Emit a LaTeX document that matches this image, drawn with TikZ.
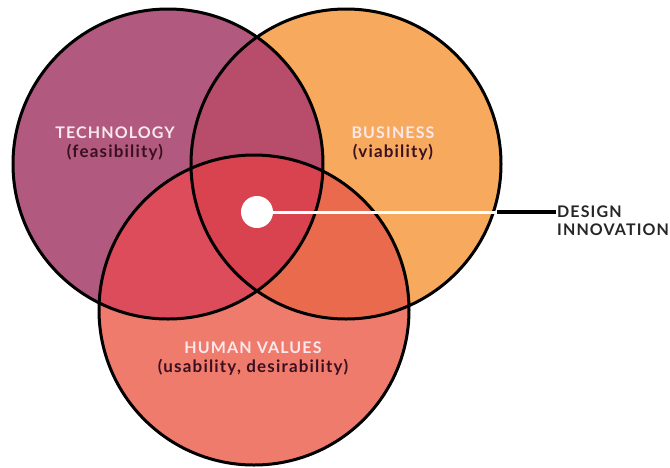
\documentclass[tikz,border=0pt]{standalone}
\usepackage{fontspec}
\setmainfont{Lato}
\newfontfamily\spaced{Lato}[LetterSpace=7]
\usetikzlibrary{positioning}
\definecolor{techcol}{HTML}{B1597F}
\definecolor{busicol}{HTML}{F7AA5D}
\definecolor{humancol}{HTML}{EF7B6D}
\definecolor{techbusicol}{HTML}{B84C6B}
\definecolor{techhumancol}{HTML}{DC4C5A}
\definecolor{busihumancol}{HTML}{EA6A4E}
\definecolor{allcol}{HTML}{D9424F}
\definecolor{titlecol}{HTML}{FBE8EC}
\definecolor{subcol}{HTML}{3A1020}
\begin{document}
\begin{tikzpicture}[x=1pt, y=-1pt,
        ring/.style={draw=black, line width=3pt},
        title/.style={font=\spaced\bfseries\fontsize{16}{18}\selectfont, text=titlecol, inner sep=1pt},
        sub/.style={font=\spaced\bfseries\fontsize{17}{19}\selectfont, text=subcol, inner sep=1pt},
        label/.style={font=\spaced\bfseries\fontsize{16}{18}\selectfont, text=black!85, inner sep=1pt, anchor=west}
    ]
    \useasboundingbox (0,0) rectangle (670,467);
    \def\rad{155pt}
    \coordinate (T) at (168,164);
    \coordinate (B) at (346,164);
    \coordinate (H) at (254,310);

    % circles
    \fill[techcol] (T) circle (\rad);
    \fill[busicol] (B) circle (\rad);
    \fill[humancol] (H) circle (\rad);
    \begin{scope}
        \clip (T) circle (\rad);
        \fill[techbusicol] (B) circle (\rad);
        \fill[techhumancol] (H) circle (\rad);
    \end{scope}
    \begin{scope}
        \clip (B) circle (\rad);
        \fill[busihumancol] (H) circle (\rad);
    \end{scope}
    \begin{scope}
        \clip (T) circle (\rad);
        \clip (B) circle (\rad);
        \fill[allcol] (H) circle (\rad);
    \end{scope}
    \draw[ring] (T) circle (\rad);
    \draw[ring] (B) circle (\rad);
    \draw[ring] (H) circle (\rad);

    % labels
    \node[title] (tech) at (115,133) {TECHNOLOGY};
    \node[sub, below=3pt of tech] (feas) {(feasibility)};
    \node[title] (busi) at (393,133) {BUSINESS};
    \node[sub, below=3pt of busi] (viab) {(viability)};
    \node[title] (human) at (253,348) {HUMAN VALUES};
    \node[sub, below=3pt of human] (usab) {(usability, desirability)};

    % design innovation
    \node[circle, fill=white, minimum size=32pt, inner sep=0pt] (dot) at (257,212) {};
    \coordinate (rim) at (497,212);
    \node[label] (design) at (556,212) {DESIGN};
    \node[label, below=3pt of design.south west, anchor=north west] (innov) {INNOVATION};
    \draw[white, line width=3pt] (dot) -- (rim);
    \draw[black, line width=3.4pt] (rim) -- (design.west);
\end{tikzpicture}
\end{document}
